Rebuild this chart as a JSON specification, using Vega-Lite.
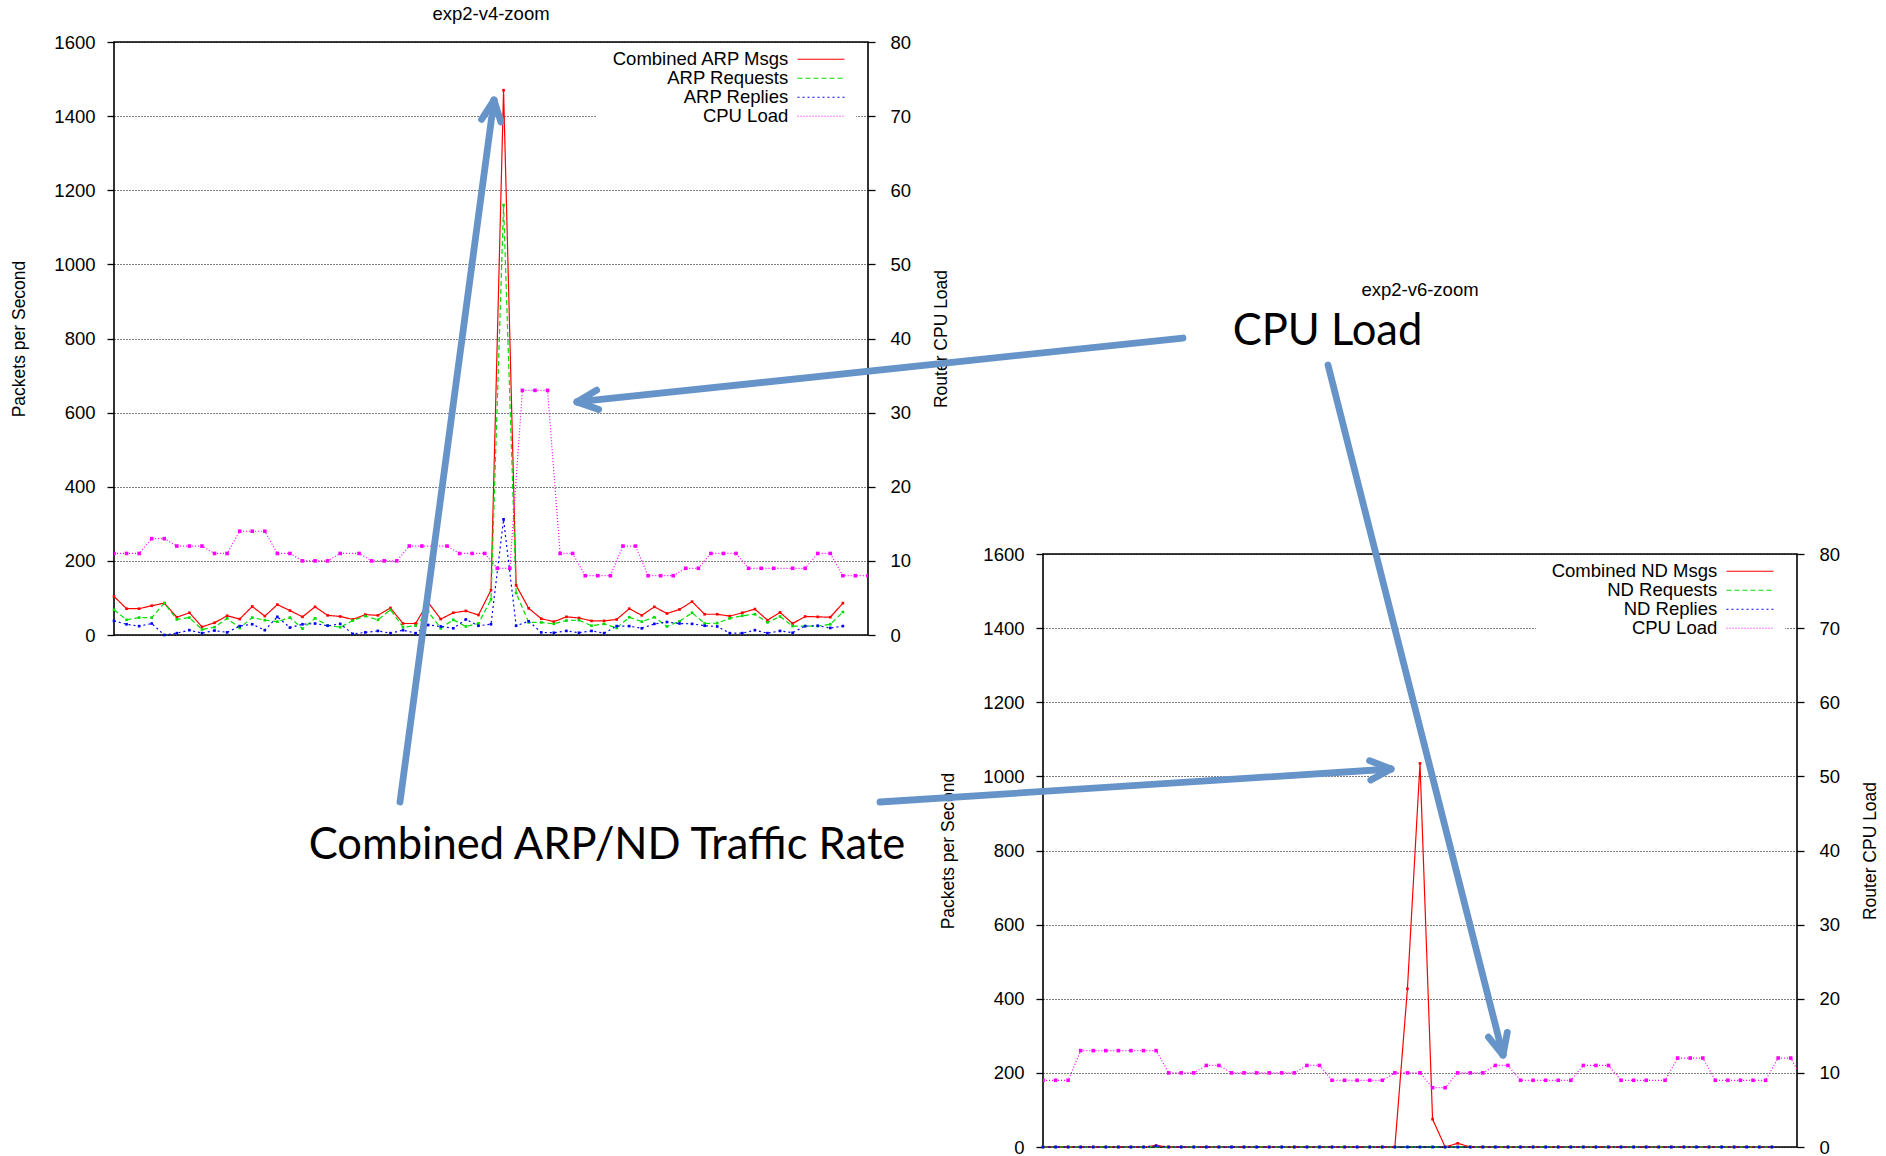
{
"$schema": "https://vega.github.io/schema/vega-lite/v6.json",
"background": "white",
"padding": {"left": 10, "top": 3, "right": 0, "bottom": 0},
"columns": 2,
"align": "none",
"bounds": "flush",
"spacing": {"row": -81, "column": 0},
"resolve": {"scale": {"x": "independent", "y": "independent", "color": "independent", "strokeDash": "independent", "fill": "independent"}, "legend": {"color": "independent", "strokeDash": "independent"}},
"config": {
  "font": "Liberation Sans",
  "view": {"stroke": "black", "strokeWidth": 1.6},
  "axis": {"labelFont": "Liberation Sans", "labelFontSize": 18.5, "labelColor": "black", "titleFont": "Liberation Sans", "titleFontSize": 17.5, "titleFontWeight": "normal", "titleColor": "black", "tickColor": "black", "tickSize": 7, "tickWidth": 1.3, "domain": false, "gridColor": "black", "gridDash": [1, 2], "gridOpacity": 1, "gridWidth": 1.1, "format": "d"},
  "title": {"font": "Liberation Sans", "fontSize": 18.5, "fontWeight": "normal", "color": "black", "anchor": "middle", "offset": 10},
  "legend": {"labelFont": "Liberation Sans", "labelFontSize": 18.5, "labelColor": "black"}
},
"datasets": {
  "v4": [
    {"x":0,"Combined ARP Msgs":104,"ARP Requests":68,"ARP Replies":38},
    {"x":1,"Combined ARP Msgs":71,"ARP Requests":41,"ARP Replies":29},
    {"x":2,"Combined ARP Msgs":71,"ARP Requests":47,"ARP Replies":24},
    {"x":3,"Combined ARP Msgs":79,"ARP Requests":47,"ARP Replies":31},
    {"x":4,"Combined ARP Msgs":86,"ARP Requests":86,"ARP Replies":0},
    {"x":5,"Combined ARP Msgs":48,"ARP Requests":42,"ARP Replies":5},
    {"x":6,"Combined ARP Msgs":60,"ARP Requests":47,"ARP Replies":13},
    {"x":7,"Combined ARP Msgs":22,"ARP Requests":15,"ARP Replies":5},
    {"x":8,"Combined ARP Msgs":33,"ARP Requests":21,"ARP Replies":12},
    {"x":9,"Combined ARP Msgs":52,"ARP Requests":45,"ARP Replies":7},
    {"x":10,"Combined ARP Msgs":43,"ARP Requests":19,"ARP Replies":24},
    {"x":11,"Combined ARP Msgs":77,"ARP Requests":47,"ARP Replies":29},
    {"x":12,"Combined ARP Msgs":51,"ARP Requests":40,"ARP Replies":13},
    {"x":13,"Combined ARP Msgs":82,"ARP Requests":36,"ARP Replies":49},
    {"x":14,"Combined ARP Msgs":66,"ARP Requests":47,"ARP Replies":20},
    {"x":15,"Combined ARP Msgs":49,"ARP Requests":17,"ARP Replies":29},
    {"x":16,"Combined ARP Msgs":76,"ARP Requests":45,"ARP Replies":31},
    {"x":17,"Combined ARP Msgs":53,"ARP Requests":26,"ARP Replies":25},
    {"x":18,"Combined ARP Msgs":50,"ARP Requests":21,"ARP Replies":30},
    {"x":19,"Combined ARP Msgs":42,"ARP Requests":39,"ARP Replies":3},
    {"x":20,"Combined ARP Msgs":55,"ARP Requests":51,"ARP Replies":7},
    {"x":21,"Combined ARP Msgs":53,"ARP Requests":41,"ARP Replies":11},
    {"x":22,"Combined ARP Msgs":73,"ARP Requests":68,"ARP Replies":5},
    {"x":23,"Combined ARP Msgs":31,"ARP Requests":21,"ARP Replies":13},
    {"x":24,"Combined ARP Msgs":31,"ARP Requests":25,"ARP Replies":5},
    {"x":25,"Combined ARP Msgs":88,"ARP Requests":63,"ARP Replies":27},
    {"x":26,"Combined ARP Msgs":43,"ARP Requests":18,"ARP Replies":23},
    {"x":27,"Combined ARP Msgs":60,"ARP Requests":41,"ARP Replies":18},
    {"x":28,"Combined ARP Msgs":65,"ARP Requests":23,"ARP Replies":42},
    {"x":29,"Combined ARP Msgs":54,"ARP Requests":31,"ARP Replies":25},
    {"x":30,"Combined ARP Msgs":121,"ARP Requests":96,"ARP Replies":29},
    {"x":31,"Combined ARP Msgs":1470,"ARP Requests":1160,"ARP Replies":312},
    {"x":32,"Combined ARP Msgs":134,"ARP Requests":113,"ARP Replies":25},
    {"x":33,"Combined ARP Msgs":72,"ARP Requests":34,"ARP Replies":37},
    {"x":34,"Combined ARP Msgs":44,"ARP Requests":34,"ARP Replies":7},
    {"x":35,"Combined ARP Msgs":36,"ARP Requests":30,"ARP Replies":6},
    {"x":36,"Combined ARP Msgs":49,"ARP Requests":39,"ARP Replies":11},
    {"x":37,"Combined ARP Msgs":46,"ARP Requests":40,"ARP Replies":6},
    {"x":38,"Combined ARP Msgs":38,"ARP Requests":25,"ARP Replies":11},
    {"x":39,"Combined ARP Msgs":38,"ARP Requests":30,"ARP Replies":5},
    {"x":40,"Combined ARP Msgs":42,"ARP Requests":19,"ARP Replies":24},
    {"x":41,"Combined ARP Msgs":71,"ARP Requests":48,"ARP Replies":24},
    {"x":42,"Combined ARP Msgs":53,"ARP Requests":36,"ARP Replies":18},
    {"x":43,"Combined ARP Msgs":76,"ARP Requests":48,"ARP Replies":30},
    {"x":44,"Combined ARP Msgs":58,"ARP Requests":23,"ARP Replies":35},
    {"x":45,"Combined ARP Msgs":69,"ARP Requests":37,"ARP Replies":31},
    {"x":46,"Combined ARP Msgs":90,"ARP Requests":60,"ARP Replies":30},
    {"x":47,"Combined ARP Msgs":56,"ARP Requests":31,"ARP Replies":25},
    {"x":48,"Combined ARP Msgs":56,"ARP Requests":32,"ARP Replies":23},
    {"x":49,"Combined ARP Msgs":51,"ARP Requests":45,"ARP Replies":5},
    {"x":50,"Combined ARP Msgs":60,"ARP Requests":52,"ARP Replies":5},
    {"x":51,"Combined ARP Msgs":70,"ARP Requests":56,"ARP Replies":13},
    {"x":52,"Combined ARP Msgs":40,"ARP Requests":34,"ARP Replies":5},
    {"x":53,"Combined ARP Msgs":61,"ARP Requests":50,"ARP Replies":11},
    {"x":54,"Combined ARP Msgs":31,"ARP Requests":24,"ARP Replies":6},
    {"x":55,"Combined ARP Msgs":50,"ARP Requests":24,"ARP Replies":24},
    {"x":56,"Combined ARP Msgs":49,"ARP Requests":24,"ARP Replies":25},
    {"x":57,"Combined ARP Msgs":48,"ARP Requests":29,"ARP Replies":19},
    {"x":58,"Combined ARP Msgs":86,"ARP Requests":62,"ARP Replies":24}
  ],
  "cpu4": [
    {"x":0,"cpu":11},{"x":1,"cpu":11},{"x":2,"cpu":11},{"x":3,"cpu":13},{"x":4,"cpu":13},
    {"x":5,"cpu":12},{"x":6,"cpu":12},{"x":7,"cpu":12},{"x":8,"cpu":11},{"x":9,"cpu":11},
    {"x":10,"cpu":14},{"x":11,"cpu":14},{"x":12,"cpu":14},{"x":13,"cpu":11},{"x":14,"cpu":11},
    {"x":15,"cpu":10},{"x":16,"cpu":10},{"x":17,"cpu":10},{"x":18,"cpu":11},{"x":19.5,"cpu":11},
    {"x":20.5,"cpu":10},{"x":21.5,"cpu":10},{"x":22.5,"cpu":10},{"x":23.5,"cpu":12},{"x":24.5,"cpu":12},
    {"x":25.5,"cpu":12},{"x":26.5,"cpu":12},{"x":27.5,"cpu":11},{"x":28.5,"cpu":11},{"x":29.5,"cpu":11},
    {"x":30.5,"cpu":9},{"x":31.5,"cpu":9},{"x":32.5,"cpu":33},{"x":33.5,"cpu":33},{"x":34.5,"cpu":33},
    {"x":35.5,"cpu":11},{"x":36.5,"cpu":11},{"x":37.5,"cpu":8},{"x":38.5,"cpu":8},{"x":39.5,"cpu":8},
    {"x":40.5,"cpu":12},{"x":41.5,"cpu":12},{"x":42.5,"cpu":8},{"x":43.5,"cpu":8},{"x":44.5,"cpu":8},
    {"x":45.5,"cpu":9},{"x":46.5,"cpu":9},{"x":47.5,"cpu":11},{"x":48.5,"cpu":11},{"x":49.5,"cpu":11},
    {"x":50.5,"cpu":9},{"x":51.5,"cpu":9},{"x":52.5,"cpu":9},{"x":54,"cpu":9},{"x":55,"cpu":9},
    {"x":56,"cpu":11},{"x":57,"cpu":11},{"x":58,"cpu":8},{"x":59,"cpu":8},{"x":60,"cpu":8}
  ],
  "arrows4": [
    {"x":22.758,"y":-450.6,"x2":30.238,"y2":1443.5},
    {"x":30.238,"y":1443.5,"x2":29.251,"y2":1391.2},
    {"x":30.238,"y":1443.5,"x2":30.787,"y2":1384.1},
    {"x":85.064,"y":801.3,"x2":36.842,"y2":628.7},
    {"x":36.842,"y":628.7,"x2":38.573,"y2":608.5},
    {"x":36.842,"y":628.7,"x2":38.411,"y2":660.6}
  ],
  "notes4": [
    {"x":39.23,"y":-605.2,"t":"Combined ARP/ND Traffic Rate"}
  ],
  "v6": [
    {"x":0,"Combined ND Msgs":0,"ND Requests":0,"ND Replies":0},
    {"x":1,"Combined ND Msgs":0,"ND Requests":0,"ND Replies":0},
    {"x":2,"Combined ND Msgs":0,"ND Requests":0,"ND Replies":0},
    {"x":3,"Combined ND Msgs":0,"ND Requests":0,"ND Replies":0},
    {"x":4,"Combined ND Msgs":0,"ND Requests":0,"ND Replies":0},
    {"x":5,"Combined ND Msgs":0,"ND Requests":0,"ND Replies":0},
    {"x":6,"Combined ND Msgs":0,"ND Requests":0,"ND Replies":0},
    {"x":7,"Combined ND Msgs":0,"ND Requests":0,"ND Replies":0},
    {"x":8,"Combined ND Msgs":0,"ND Requests":0,"ND Replies":0},
    {"x":9,"Combined ND Msgs":4,"ND Requests":1,"ND Replies":3},
    {"x":10,"Combined ND Msgs":0,"ND Requests":0,"ND Replies":0},
    {"x":11,"Combined ND Msgs":0,"ND Requests":0,"ND Replies":0},
    {"x":12,"Combined ND Msgs":0,"ND Requests":0,"ND Replies":0},
    {"x":13,"Combined ND Msgs":0,"ND Requests":0,"ND Replies":0},
    {"x":14,"Combined ND Msgs":0,"ND Requests":0,"ND Replies":0},
    {"x":15,"Combined ND Msgs":0,"ND Requests":0,"ND Replies":0},
    {"x":16,"Combined ND Msgs":0,"ND Requests":0,"ND Replies":0},
    {"x":17,"Combined ND Msgs":0,"ND Requests":0,"ND Replies":0},
    {"x":18,"Combined ND Msgs":0,"ND Requests":0,"ND Replies":0},
    {"x":19,"Combined ND Msgs":0,"ND Requests":0,"ND Replies":0},
    {"x":20,"Combined ND Msgs":0,"ND Requests":0,"ND Replies":0},
    {"x":21,"Combined ND Msgs":0,"ND Requests":0,"ND Replies":0},
    {"x":22,"Combined ND Msgs":0,"ND Requests":0,"ND Replies":0},
    {"x":23,"Combined ND Msgs":0,"ND Requests":0,"ND Replies":0},
    {"x":24,"Combined ND Msgs":0,"ND Requests":0,"ND Replies":0},
    {"x":25,"Combined ND Msgs":0,"ND Requests":0,"ND Replies":0},
    {"x":26,"Combined ND Msgs":0,"ND Requests":0,"ND Replies":0},
    {"x":27,"Combined ND Msgs":0,"ND Requests":0,"ND Replies":0},
    {"x":28,"Combined ND Msgs":0,"ND Requests":0,"ND Replies":0},
    {"x":29,"Combined ND Msgs":427,"ND Requests":0,"ND Replies":0},
    {"x":30,"Combined ND Msgs":1035,"ND Requests":0,"ND Replies":0},
    {"x":31,"Combined ND Msgs":75,"ND Requests":0,"ND Replies":0},
    {"x":32,"Combined ND Msgs":0,"ND Requests":0,"ND Replies":0},
    {"x":33,"Combined ND Msgs":10,"ND Requests":0,"ND Replies":0},
    {"x":34,"Combined ND Msgs":0,"ND Requests":0,"ND Replies":0},
    {"x":35,"Combined ND Msgs":0,"ND Requests":0,"ND Replies":0},
    {"x":36,"Combined ND Msgs":0,"ND Requests":0,"ND Replies":0},
    {"x":37,"Combined ND Msgs":0,"ND Requests":0,"ND Replies":0},
    {"x":38,"Combined ND Msgs":0,"ND Requests":0,"ND Replies":0},
    {"x":39,"Combined ND Msgs":0,"ND Requests":0,"ND Replies":0},
    {"x":40,"Combined ND Msgs":0,"ND Requests":0,"ND Replies":0},
    {"x":41,"Combined ND Msgs":0,"ND Requests":0,"ND Replies":0},
    {"x":42,"Combined ND Msgs":0,"ND Requests":0,"ND Replies":0},
    {"x":43,"Combined ND Msgs":0,"ND Requests":0,"ND Replies":0},
    {"x":44,"Combined ND Msgs":0,"ND Requests":0,"ND Replies":0},
    {"x":45,"Combined ND Msgs":0,"ND Requests":0,"ND Replies":0},
    {"x":46,"Combined ND Msgs":0,"ND Requests":0,"ND Replies":0},
    {"x":47,"Combined ND Msgs":0,"ND Requests":0,"ND Replies":0},
    {"x":48,"Combined ND Msgs":0,"ND Requests":0,"ND Replies":0},
    {"x":49,"Combined ND Msgs":0,"ND Requests":0,"ND Replies":0},
    {"x":50,"Combined ND Msgs":0,"ND Requests":0,"ND Replies":0},
    {"x":51,"Combined ND Msgs":0,"ND Requests":0,"ND Replies":0},
    {"x":52,"Combined ND Msgs":0,"ND Requests":0,"ND Replies":0},
    {"x":53,"Combined ND Msgs":0,"ND Requests":0,"ND Replies":0},
    {"x":54,"Combined ND Msgs":0,"ND Requests":0,"ND Replies":0},
    {"x":55,"Combined ND Msgs":0,"ND Requests":0,"ND Replies":0},
    {"x":56,"Combined ND Msgs":0,"ND Requests":0,"ND Replies":0},
    {"x":57,"Combined ND Msgs":0,"ND Requests":0,"ND Replies":0},
    {"x":58,"Combined ND Msgs":0,"ND Requests":0,"ND Replies":0}
  ],
  "cpu6": [
    {"x":0,"cpu":9},{"x":1,"cpu":9},{"x":2,"cpu":9},{"x":3,"cpu":13},{"x":4,"cpu":13},
    {"x":5,"cpu":13},{"x":6,"cpu":13},{"x":7,"cpu":13},{"x":8,"cpu":13},{"x":9,"cpu":13},
    {"x":10,"cpu":10},{"x":11,"cpu":10},{"x":12,"cpu":10},{"x":13,"cpu":11},{"x":14,"cpu":11},
    {"x":15,"cpu":10},{"x":16,"cpu":10},{"x":17,"cpu":10},{"x":18,"cpu":10},{"x":19,"cpu":10},
    {"x":20,"cpu":10},{"x":21,"cpu":11},{"x":22,"cpu":11},{"x":23,"cpu":9},{"x":24,"cpu":9},
    {"x":25,"cpu":9},{"x":26,"cpu":9},{"x":27,"cpu":9},{"x":28,"cpu":10},{"x":29,"cpu":10},
    {"x":30,"cpu":10},{"x":31,"cpu":8},{"x":32,"cpu":8},{"x":33,"cpu":10},{"x":34,"cpu":10},
    {"x":35,"cpu":10},{"x":36,"cpu":11},{"x":37,"cpu":11},{"x":38,"cpu":9},{"x":39,"cpu":9},
    {"x":40,"cpu":9},{"x":41,"cpu":9},{"x":42,"cpu":9},{"x":43,"cpu":11},{"x":44,"cpu":11},
    {"x":45,"cpu":11},{"x":46,"cpu":9},{"x":47,"cpu":9},{"x":48,"cpu":9},{"x":49.5,"cpu":9},
    {"x":50.5,"cpu":12},{"x":51.5,"cpu":12},{"x":52.5,"cpu":12},{"x":53.5,"cpu":9},{"x":54.5,"cpu":9},
    {"x":55.5,"cpu":9},{"x":56.5,"cpu":9},{"x":57.5,"cpu":9},{"x":58.5,"cpu":12},{"x":59.5,"cpu":12},
    {"x":60.5,"cpu":9}
  ],
  "arrows6": [
    {"x":22.679,"y":2109.9,"x2":36.604,"y2":248.2},
    {"x":36.604,"y":248.2,"x2":36.946,"y2":309.2},
    {"x":36.604,"y":248.2,"x2":35.446,"y2":296.3},
    {"x":-12.971,"y":930.9,"x2":27.692,"y2":1019.9},
    {"x":27.692,"y":1019.9,"x2":25.986,"y2":1042.4},
    {"x":27.692,"y":1019.9,"x2":26.086,"y2":990.1}
  ],
  "notes6": [
    {"x":22.64,"y":2164,"t":"CPU Load"}
  ]
},
"concat": [
  {
    "width": 754, "height": 593,
    "title": {"text": "exp2-v4-zoom"},
    "resolve": {"scale": {"y": "independent"}},
    "layer": [
      {
        "data": {"name": "v4"},
        "transform": [{"fold": ["Combined ARP Msgs", "ARP Requests", "ARP Replies"], "as": ["series", "v"]}],
        "layer": [
          {
            "data": {"values": [{}]},
            "mark": {"type": "rect", "color": "white"},
            "encoding": {
              "x": {"datum": 38.43, "type": "quantitative", "scale": {"domain": [0, 60], "nice": false, "zero": false}, "axis": null},
              "x2": {"datum": 59.04},
              "y": {"datum": 1596, "type": "quantitative", "scale": {"domain": [0, 1600], "nice": false}},
              "y2": {"datum": 1376}
            }
          },
          {
            "mark": {"type": "line", "strokeWidth": 1.2},
            "encoding": {
              "x": {"field": "x", "type": "quantitative", "scale": {"domain": [0, 60], "nice": false, "zero": false}, "axis": null},
              "y": {"field": "v", "type": "quantitative", "scale": {"domain": [0, 1600], "nice": false},
                    "axis": {"orient": "left", "values": [0, 200, 400, 600, 800, 1000, 1200, 1400, 1600], "grid": true, "title": "Packets per Second", "titlePadding": 25, "labelPadding": 12}},
              "color": {"field": "series", "type": "nominal",
                        "scale": {"domain": ["Combined ARP Msgs", "ARP Requests", "ARP Replies", "CPU Load"], "range": ["#ff0000", "#00dd00", "#0000ff", "#ff00ff"]},
                        "legend": {"title": null, "orient": "none", "legendX": 684, "legendY": 8, "symbolType": "M-11.75,0L11.75,0", "symbolSize": 16, "symbolOffset": 13.75, "symbolStrokeWidth": 1.2, "labelAlign": "right", "labelOffset": -42, "rowPadding": -2, "padding": 0, "labelLimit": 500}},
              "strokeDash": {"field": "series", "type": "nominal",
                        "scale": {"domain": ["Combined ARP Msgs", "ARP Requests", "ARP Replies", "CPU Load"], "range": [[1, 0], [5, 3], [2, 3], [1, 2]]},
                        "legend": {"title": null, "orient": "none", "legendX": 684, "legendY": 8, "symbolType": "M-11.75,0L11.75,0", "symbolSize": 16, "symbolOffset": 13.75, "symbolStrokeWidth": 1.2, "labelAlign": "right", "labelOffset": -42, "rowPadding": -2, "padding": 0, "labelLimit": 500}}
            }
          },
          {
            "mark": {"type": "point", "shape": "square", "filled": true, "size": 7, "opacity": 1, "strokeWidth": 0},
            "encoding": {
              "x": {"field": "x", "type": "quantitative", "scale": {"domain": [0, 60], "nice": false, "zero": false}, "axis": null},
              "y": {"field": "v", "type": "quantitative", "scale": {"domain": [0, 1600], "nice": false}},
              "fill": {"field": "series", "type": "nominal", "legend": null, "scale": {"domain": ["Combined ARP Msgs", "ARP Requests", "ARP Replies", "CPU Load"], "range": ["#ff0000", "#00dd00", "#0000ff", "#ff00ff"]}}
            }
          }
        ]
      },
      {
        "data": {"name": "cpu4"},
        "layer": [
          {
            "mark": {"type": "line", "strokeWidth": 1.2, "clip": true},
            "encoding": {
              "x": {"field": "x", "type": "quantitative", "scale": {"domain": [0, 60], "nice": false, "zero": false}, "axis": null},
              "y": {"field": "cpu", "type": "quantitative", "scale": {"domain": [0, 80], "nice": false},
                    "axis": {"orient": "right", "values": [0, 10, 20, 30, 40, 50, 60, 70, 80], "grid": false, "title": "Router CPU Load", "titleAngle": 270, "titleBaseline": "top", "titlePadding": 22, "labelPadding": 15}},
              "color": {"datum": "CPU Load", "type": "nominal"},
              "strokeDash": {"datum": "CPU Load", "type": "nominal"}
            }
          },
          {
            "mark": {"type": "point", "shape": "square", "filled": true, "size": 13, "opacity": 1, "clip": true, "strokeWidth": 0},
            "encoding": {
              "x": {"field": "x", "type": "quantitative", "scale": {"domain": [0, 60], "nice": false, "zero": false}, "axis": null},
              "y": {"field": "cpu", "type": "quantitative", "scale": {"domain": [0, 80], "nice": false}},
              "fill": {"datum": "CPU Load", "type": "nominal", "legend": null}
            }
          }
        ]
      },
      {
        "layer": [
          {
            "data": {"name": "arrows4"},
            "mark": {"type": "rule", "color": "#6694c8", "strokeWidth": 6.8, "strokeCap": "round"},
            "encoding": {
              "x": {"field": "x", "type": "quantitative", "scale": {"domain": [0, 60], "nice": false, "zero": false}, "axis": null},
              "y": {"field": "y", "type": "quantitative", "scale": {"domain": [0, 1600], "nice": false}, "axis": null},
              "x2": {"field": "x2"},
              "y2": {"field": "y2"}
            }
          },
          {
            "data": {"name": "notes4"},
            "mark": {"type": "text", "font": "Lato", "fontSize": 43.5, "align": "center", "baseline": "alphabetic", "color": "black"},
            "encoding": {
              "x": {"field": "x", "type": "quantitative", "scale": {"domain": [0, 60], "nice": false, "zero": false}, "axis": null},
              "y": {"field": "y", "type": "quantitative", "scale": {"domain": [0, 1600], "nice": false}, "axis": null},
              "text": {"field": "t"}
            }
          }
        ]
      }
    ]
  },
  {
    "width": 754, "height": 512,
    "view": {"stroke": null, "fill": null},
    "data": {"values": []},
    "mark": "point"
  },
  {
    "width": 929, "height": 300,
    "view": {"stroke": null, "fill": null},
    "data": {"values": []},
    "mark": "point"
  },
  {
    "width": 754, "height": 593,
    "title": {"text": "exp2-v6-zoom"},
    "resolve": {"scale": {"y": "independent"}},
    "layer": [
      {
        "data": {"name": "v6"},
        "transform": [{"fold": ["Combined ND Msgs", "ND Requests", "ND Replies"], "as": ["series", "v"]}],
        "layer": [
          {
            "data": {"values": [{}]},
            "mark": {"type": "rect", "color": "white"},
            "encoding": {
              "x": {"datum": 39.23, "type": "quantitative", "scale": {"domain": [0, 60], "nice": false, "zero": false}, "axis": null},
              "x2": {"datum": 59.04},
              "y": {"datum": 1596, "type": "quantitative", "scale": {"domain": [0, 1600], "nice": false}},
              "y2": {"datum": 1376}
            }
          },
          {
            "mark": {"type": "line", "strokeWidth": 1.2},
            "encoding": {
              "x": {"field": "x", "type": "quantitative", "scale": {"domain": [0, 60], "nice": false, "zero": false}, "axis": null},
              "y": {"field": "v", "type": "quantitative", "scale": {"domain": [0, 1600], "nice": false},
                    "axis": {"orient": "left", "values": [0, 200, 400, 600, 800, 1000, 1200, 1400, 1600], "grid": true, "title": "Packets per Second", "titlePadding": 25, "labelPadding": 12}},
              "color": {"field": "series", "type": "nominal",
                        "scale": {"domain": ["Combined ND Msgs", "ND Requests", "ND Replies", "CPU Load"], "range": ["#ff0000", "#00dd00", "#0000ff", "#ff00ff"]},
                        "legend": {"title": null, "orient": "none", "legendX": 684, "legendY": 8, "symbolType": "M-11.75,0L11.75,0", "symbolSize": 16, "symbolOffset": 13.75, "symbolStrokeWidth": 1.2, "labelAlign": "right", "labelOffset": -42, "rowPadding": -2, "padding": 0, "labelLimit": 500}},
              "strokeDash": {"field": "series", "type": "nominal",
                        "scale": {"domain": ["Combined ND Msgs", "ND Requests", "ND Replies", "CPU Load"], "range": [[1, 0], [5, 3], [2, 3], [1, 2]]},
                        "legend": {"title": null, "orient": "none", "legendX": 684, "legendY": 8, "symbolType": "M-11.75,0L11.75,0", "symbolSize": 16, "symbolOffset": 13.75, "symbolStrokeWidth": 1.2, "labelAlign": "right", "labelOffset": -42, "rowPadding": -2, "padding": 0, "labelLimit": 500}}
            }
          },
          {
            "mark": {"type": "point", "shape": "square", "filled": true, "size": 7, "opacity": 1, "strokeWidth": 0},
            "encoding": {
              "x": {"field": "x", "type": "quantitative", "scale": {"domain": [0, 60], "nice": false, "zero": false}, "axis": null},
              "y": {"field": "v", "type": "quantitative", "scale": {"domain": [0, 1600], "nice": false}},
              "fill": {"field": "series", "type": "nominal", "legend": null, "scale": {"domain": ["Combined ND Msgs", "ND Requests", "ND Replies", "CPU Load"], "range": ["#ff0000", "#00dd00", "#0000ff", "#ff00ff"]}}
            }
          }
        ]
      },
      {
        "data": {"name": "cpu6"},
        "layer": [
          {
            "mark": {"type": "line", "strokeWidth": 1.2, "clip": true},
            "encoding": {
              "x": {"field": "x", "type": "quantitative", "scale": {"domain": [0, 60], "nice": false, "zero": false}, "axis": null},
              "y": {"field": "cpu", "type": "quantitative", "scale": {"domain": [0, 80], "nice": false},
                    "axis": {"orient": "right", "values": [0, 10, 20, 30, 40, 50, 60, 70, 80], "grid": false, "title": "Router CPU Load", "titleAngle": 270, "titleBaseline": "top", "titlePadding": 22, "labelPadding": 15}},
              "color": {"datum": "CPU Load", "type": "nominal"},
              "strokeDash": {"datum": "CPU Load", "type": "nominal"}
            }
          },
          {
            "mark": {"type": "point", "shape": "square", "filled": true, "size": 13, "opacity": 1, "clip": true, "strokeWidth": 0},
            "encoding": {
              "x": {"field": "x", "type": "quantitative", "scale": {"domain": [0, 60], "nice": false, "zero": false}, "axis": null},
              "y": {"field": "cpu", "type": "quantitative", "scale": {"domain": [0, 80], "nice": false}},
              "fill": {"datum": "CPU Load", "type": "nominal", "legend": null}
            }
          }
        ]
      },
      {
        "layer": [
          {
            "data": {"name": "arrows6"},
            "mark": {"type": "rule", "color": "#6694c8", "strokeWidth": 6.8, "strokeCap": "round"},
            "encoding": {
              "x": {"field": "x", "type": "quantitative", "scale": {"domain": [0, 60], "nice": false, "zero": false}, "axis": null},
              "y": {"field": "y", "type": "quantitative", "scale": {"domain": [0, 1600], "nice": false}, "axis": null},
              "x2": {"field": "x2"},
              "y2": {"field": "y2"}
            }
          },
          {
            "data": {"name": "notes6"},
            "mark": {"type": "text", "font": "Lato", "fontSize": 43.5, "align": "center", "baseline": "alphabetic", "color": "black"},
            "encoding": {
              "x": {"field": "x", "type": "quantitative", "scale": {"domain": [0, 60], "nice": false, "zero": false}, "axis": null},
              "y": {"field": "y", "type": "quantitative", "scale": {"domain": [0, 1600], "nice": false}, "axis": null},
              "text": {"field": "t"}
            }
          }
        ]
      }
    ]
  }
]
}
